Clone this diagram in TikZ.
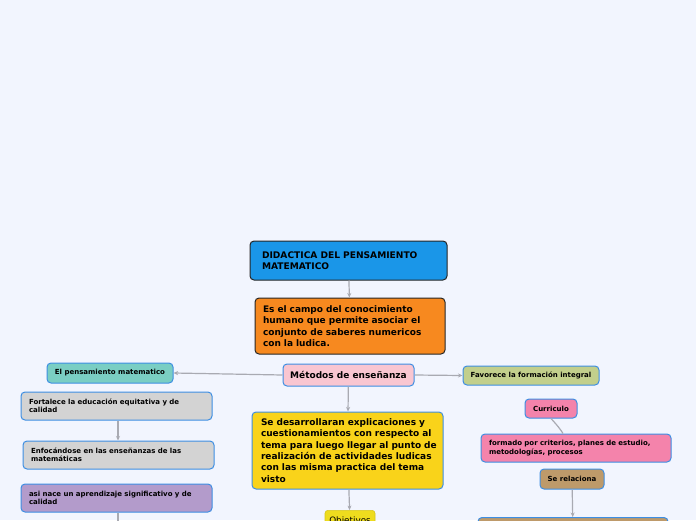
\documentclass[tikz,border=0pt]{standalone}
\usepackage{fontspec}
\setmainfont{DejaVu Sans}
\usetikzlibrary{arrows.meta}
\definecolor{bg}{HTML}{F2F5FE}
\definecolor{cblue}{HTML}{1A96E8}
\definecolor{corange}{HTML}{F7891F}
\definecolor{cpinkl}{HTML}{F9C6D1}
\definecolor{cteal}{HTML}{7ACEC3}
\definecolor{cgrey}{HTML}{D3D3D3}
\definecolor{cpurple}{HTML}{B39BCB}
\definecolor{cyellow}{HTML}{F9D31A}
\definecolor{cobj}{HTML}{EEDC1E}
\definecolor{cgreen}{HTML}{C2CF8C}
\definecolor{cpink}{HTML}{F483AB}
\definecolor{cbrown}{HTML}{BE9A6A}
\definecolor{cborder}{HTML}{3D8EE3}
\definecolor{cline}{HTML}{A9AAB2}
\tikzset{
  box/.style={rectangle, rounded corners=4pt, draw=cborder, line width=1pt, align=left, anchor=center, inner xsep=0pt, inner ysep=0pt, text=black},
  blackbox/.style={box, draw=black!85},
  conn/.style={draw=cline, line width=1.2pt, -{Stealth[length=4.5pt,width=4pt]}},
  plain/.style={draw=cline, line width=1.2pt},
  big/.style={font=\bfseries\fontsize{9}{11.3}\selectfont},
  mid/.style={font=\bfseries\fontsize{9.1}{11}\selectfont},
  small/.style={font=\bfseries\fontsize{7}{8.2}\selectfont},
}
\begin{document}
\begin{tikzpicture}[x=1pt,y=-1pt]
\fill[bg] (0,0) rectangle (696,520);
\useasboundingbox (0,0) rectangle (696,520);
\clip (0,0) rectangle (696,520);
% top
\node[blackbox, mid, fill=cblue, minimum width=197pt, minimum height=39pt, text width=173pt] (did) at (348.5,260.5) {DIDACTICA DEL PENSAMIENTO\\MATEMATICO};
\node[blackbox, big, fill=corange, minimum width=190pt, minimum height=56pt, text width=174pt] (campo) at (350,326) {Es el campo del conocimiento\\humano que permite asociar el\\conjunto de saberes numericos\\con la ludica.};
\node[box, big, fill=cpinkl, minimum width=131pt, minimum height=22pt, align=center] (met) at (348.5,375) {Métodos de enseñanza};
% left
\node[box, small, fill=cteal, minimum width=126pt, minimum height=20pt, align=center] (pens) at (110,373) {El pensamiento matematico};
\node[box, small, fill=cgrey, minimum width=191pt, minimum height=28pt, text width=175pt] (fort) at (116.5,406) {Fortalece la educación equitativa y de\\calidad};
\node[box, small, fill=cgrey, minimum width=191pt, minimum height=28pt, text width=175pt] (enf) at (118.5,455) {Enfocándose en las enseñanzas de las\\matemáticas};
\node[box, small, fill=cpurple, minimum width=191pt, minimum height=28pt, text width=175pt] (asi) at (116.5,498) {asi nace un aprendizaje significativo y de\\calidad};
\coordinate (asiout) at (118,530);
% center
\node[box, big, fill=cyellow, minimum width=191pt, minimum height=77pt, text width=173pt] (des) at (347.5,450.5) {Se desarrollaran explicaciones y\\cuestionamientos con respecto al\\\mbox{tema para luego llegar al punto de}\\realización de actividades ludicas\\con las misma practica del tema\\visto};
\node[rectangle, rounded corners=3pt, fill=cobj, draw=cobj!90!black, line width=0.6pt, minimum width=50pt, minimum height=22pt, font=\fontsize{8.8}{10}\selectfont, anchor=north] (obj) at (350,510) {Objetivos};
% right
\node[box, small, fill=cgreen, minimum width=136pt, minimum height=19pt, align=center] (fav) at (531,375.5) {Favorece la formación integral};
\node[box, small, fill=cpink, minimum width=52pt, minimum height=19pt, align=center] (cur) at (551,408.5) {Curriculo};
\node[box, small, fill=cpink, minimum width=190pt, minimum height=28pt, text width=174pt] (form) at (576,448) {formado por criterios, planes de estudio,\\metodologías, procesos};
\node[box, small, fill=cbrown, minimum width=64pt, minimum height=20pt, align=center] (rel) at (572,479) {Se relaciona};
\node[box, fill=cbrown, minimum width=190pt, minimum height=30pt, anchor=north] (bot) at (573,517) {};
% connectors
\draw[conn] (did) -- (campo);
\draw[conn] (met.west) -- (pens.east);
\draw[conn] (met.east) -- (fav.west);
\draw[conn] (met) -- (des);
\draw[conn] (fort.south -| 118,0) -- (enf.north -| 118,0);
\draw[conn] (des) -- (obj);
\draw[plain] (cur.south) .. controls (557,425) and (561,430) .. (form.north -| 563,0);
\draw[conn] (rel) -- (bot);
\draw[plain] (asi.south -| 118,0) -- (asiout);
\end{tikzpicture}
\end{document}
